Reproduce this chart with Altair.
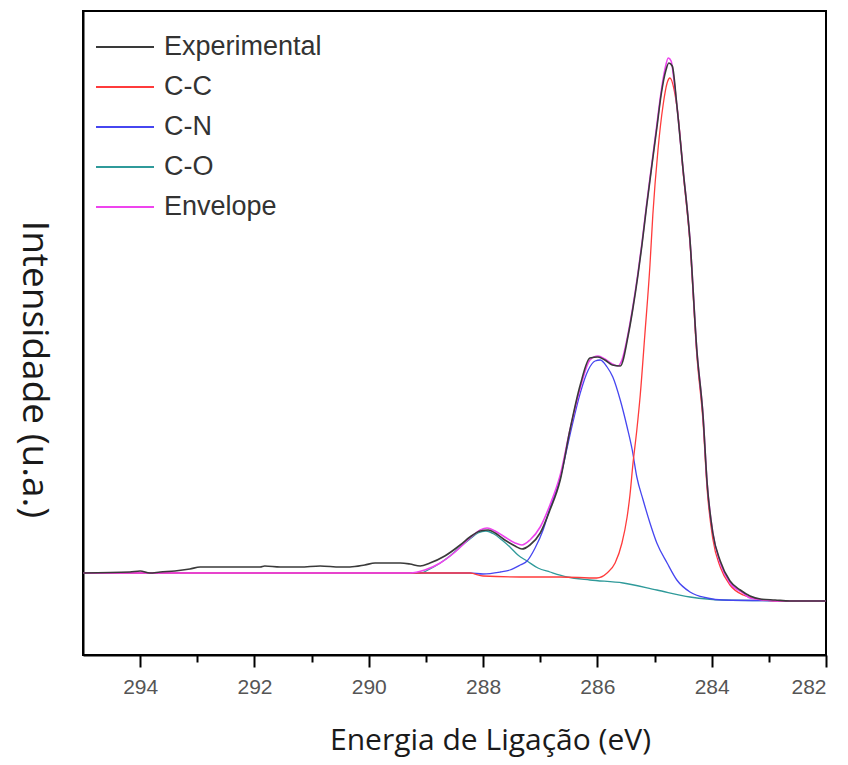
import altair as alt
import pandas as pd

# ---- data (binding energy in eV, intensity in a.u.) ----
exp_x = [295.00, 294.18, 294.00, 293.83, 293.65, 293.39, 293.13, 292.95, 291.90, 291.82,
         291.55, 291.20, 290.85, 290.50, 290.33, 290.07, 289.89, 289.45, 289.28, 289.10,
         288.93, 288.67, 288.40, 288.23, 288.05, 287.91, 287.79, 287.62, 287.44, 287.32,
         287.18, 287.00, 286.83, 286.65, 286.48, 286.30, 286.13, 285.99, 285.87, 285.74,
         285.60, 285.46, 285.38, 285.29, 285.22, 285.14, 285.05, 284.96, 284.88, 284.80,
         284.75, 284.69, 284.61, 284.50, 284.38, 284.26, 284.15, 284.08, 283.98, 283.85,
         283.68, 283.50, 283.33, 283.15, 282.89, 282.63, 282.00]
exp_y = [82, 83, 84, 82, 83, 84, 86, 88, 88, 89,
         88, 88, 89, 88, 88, 90, 92, 92, 91, 89,
         92, 99, 110, 118, 124, 125, 122, 115, 109, 106,
         110, 122, 145, 175, 225, 270, 297, 298, 295, 290,
         289, 320, 346, 380, 410, 448, 488, 527, 562, 585,
         592, 589, 550, 485, 415, 305, 238, 172, 122, 94,
         74, 65, 59, 56, 55, 54, 54]

env_x = [295.00, 289.28, 289.02, 288.75, 288.49, 288.23, 288.05, 287.93, 287.79, 287.62,
         287.44, 287.32, 287.18, 287.00, 286.83, 286.65, 286.48, 286.30, 286.13, 285.99,
         285.87, 285.74, 285.64, 285.57, 285.46, 285.38, 285.29, 285.22, 285.14, 285.05,
         284.96, 284.88, 284.82, 284.76, 284.71, 284.66, 284.61, 284.50, 284.38, 284.26,
         284.15, 284.08, 283.98, 283.85, 283.68, 283.45, 283.33, 283.07, 282.80, 282.00]
env_y = [82, 82, 85, 92, 103, 117, 125, 127, 124, 118,
         112, 110, 115, 128, 150, 180, 225, 267, 295, 299,
         296, 291, 289, 295, 322, 348, 382, 412, 450, 490,
         530, 565, 585, 597, 594, 575, 550, 485, 415, 305,
         238, 172, 122, 92, 72, 62, 57, 55, 54, 54]

cn_x = [295.00, 288.23, 288.00, 287.70, 287.53, 287.35, 287.23, 287.09, 286.95, 286.83,
        286.65, 286.48, 286.30, 286.16, 286.04, 285.95, 285.83, 285.73, 285.60, 285.48,
        285.39, 285.31, 285.20, 285.08, 284.96, 284.78, 284.61, 284.38, 284.08, 283.80,
        282.00]
cn_y = [82, 82, 81, 83, 85, 90, 94, 107, 125, 147,
        177, 220, 262, 285, 294, 295, 288, 278, 255, 228,
        205, 178, 155, 132, 112, 92, 75, 63, 57, 55,
        54]

co_x = [295.00, 289.10, 288.93, 288.75, 288.58, 288.40, 288.23, 288.09, 287.95, 287.81,
        287.67, 287.53, 287.39, 287.23, 287.04, 286.83, 286.53, 286.13, 285.55, 284.96,
        284.38, 283.80, 282.00]
co_y = [82, 82, 86, 92, 99, 108, 116, 122, 124, 121,
        115, 108, 100, 94, 87, 83, 78, 75, 72, 65,
        58, 55, 54]

cc_x = [295.00, 288.23, 288.00, 287.35, 286.65, 286.01, 285.83, 285.69, 285.57, 285.48,
        285.43, 285.38, 285.31, 285.25, 285.17, 285.08, 285.03, 284.94, 284.85, 284.78,
        284.73, 284.66, 284.59, 284.50, 284.38, 284.26, 284.15, 284.08, 283.98, 283.85,
        283.68, 283.45, 283.07, 282.80, 282.00]
cc_y = [82, 82, 79, 78, 78, 77, 82, 92, 112, 138,
        160, 190, 225, 260, 320, 390, 440, 505, 550, 572,
        577, 566, 540, 483, 412, 300, 232, 166, 116, 88,
        70, 60, 55, 54, 54]

series_names = ["Experimental", "C-C", "C-N", "C-O", "Envelope"]
series_colors = ["#3a3a3a", "#ff3b3b", "#4646f0", "#2f9a9a", "#ee44ee"]
tick_values = [282, 283, 284, 285, 286, 287, 288, 289, 290, 291, 292, 293, 294]

frames = []
for name, xs, ys in [("Experimental", exp_x, exp_y), ("C-C", cc_x, cc_y),
                     ("C-N", cn_x, cn_y), ("C-O", co_x, co_y), ("Envelope", env_x, env_y)]:
    frames.append(pd.DataFrame({"series": name, "energy": xs, "intensity": ys}))
df = pd.concat(frames, ignore_index=True)

x_enc = alt.X(
    "energy:Q",
    scale=alt.Scale(domain=[295, 282], nice=False, zero=False),
    axis=alt.Axis(
        title="Energia de Ligação (eV)",
        values=tick_values,
        labelExpr="datum.value % 2 == 0 ? datum.label : ''",
        format="d",
        grid=False,
        domainColor="black", domainWidth=2,
        tickColor="black", tickWidth=2,
        tickSize={"condition": {"test": "datum.value % 2 == 0", "value": 12}, "value": 7},
        labelFont="Liberation Sans", labelFontSize=21, labelColor="#555555",
        labelPadding=9,
        titleFont="Open Sans", titleFontSize=30, titleFontWeight="normal", titleColor="#1a1a1a",
        titleX=407, titleY=85, titleAlign="center", titleBaseline="middle",
    ),
)
y_enc = alt.Y(
    "intensity:Q",
    scale=alt.Scale(domain=[0, 644], nice=False, zero=False),
    axis=alt.Axis(
        title="Intensidade (u.a.)",
        labels=False, ticks=False, grid=False,
        domainColor="black", domainWidth=2,
        titleAngle=90, titleX=-50, titleY=358,
        titleAlign="center", titleBaseline="middle",
        titleFont="Open Sans", titleFontSize=37, titleFontWeight="normal", titleColor="#1a1a1a",
    ),
)
color_enc = alt.Color(
    "series:N",
    scale=alt.Scale(domain=series_names, range=series_colors),
    legend=alt.Legend(
        title=None, orient="none", legendX=12, legendY=26, padding=0,
        symbolType="stroke", symbolSize=3364, symbolStrokeWidth=2,
        labelFont="Liberation Sans", labelFontSize=27, labelColor="#333333",
        labelOffset=9, clipHeight=20, rowPadding=13,
    ),
)

def layer(name, width):
    return alt.Chart(df).transform_filter(alt.datum.series == name).mark_line(
        strokeWidth=width, interpolate="monotone"
    ).encode(x=x_enc, y=y_enc, color=color_enc, order=alt.Order("energy:Q"))

chart = alt.layer(
    layer("C-O", 1.3),
    layer("C-N", 1.3),
    layer("C-C", 1.3),
    layer("Envelope", 1.6),
    layer("Experimental", 1.6),
).properties(
    width=743, height=644,
    autosize=alt.AutoSizeParams(type="none"),
    padding={"left": 83, "top": 11, "right": 22, "bottom": 110},
    background="white",
).configure_view(stroke="black", strokeWidth=2)

chart.save("out.html", embed_options={"renderer": "svg", "actions": False})
